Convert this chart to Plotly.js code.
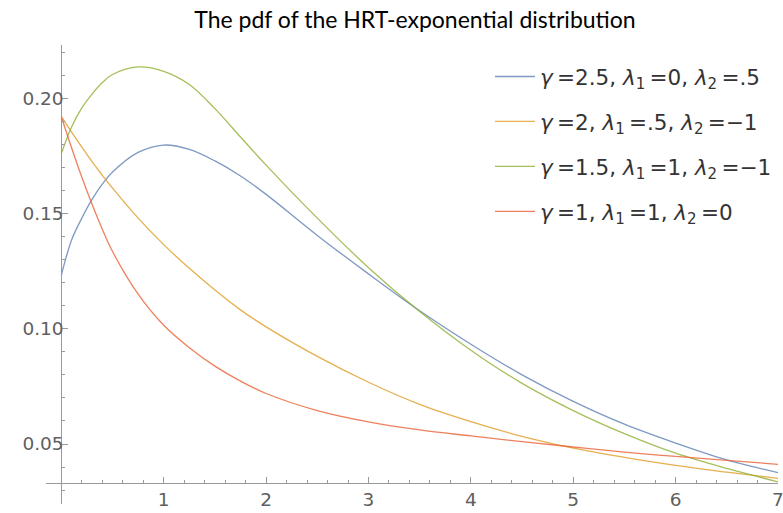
<!DOCTYPE html>
<html>
<head>
<meta charset="utf-8">
<script src="https://cdn.plot.ly/plotly-3.0.1.min.js"></script>
<style>html,body{margin:0;padding:0;background:#fff;}</style>
</head>
<body>
<div id="chart" style="width:783px;height:513px;"></div>
<script>
// x grid
const xs = [0, 0.1, 0.2, 0.3, 0.4, 0.5, 0.75, 1, 1.25, 1.5, 1.75, 2, 2.5, 3, 3.5, 4, 4.5, 5, 5.5, 6, 6.5, 7];

// pdf values
const blueVals   = [0.1233, 0.1385, 0.1480, 0.1561, 0.1627, 0.1680, 0.1765, 0.1797, 0.1778, 0.1728, 0.1663, 0.1583, 0.1405, 0.1238, 0.1078, 0.0933, 0.0800, 0.0685, 0.0586, 0.0504, 0.0431, 0.0376];
const orangeVals = [0.1920, 0.1853, 0.1788, 0.1725, 0.1666, 0.1610, 0.1480, 0.1365, 0.1262, 0.1168, 0.1082, 0.1008, 0.0880, 0.0768, 0.0672, 0.0597, 0.0533, 0.0482, 0.0442, 0.0407, 0.0378, 0.0351];
const greenVals  = [0.1760, 0.1875, 0.1958, 0.2018, 0.2068, 0.2103, 0.2136, 0.2117, 0.2060, 0.1955, 0.1832, 0.1710, 0.1480, 0.1265, 0.1075, 0.0907, 0.0763, 0.0645, 0.0545, 0.0460, 0.0394, 0.0336];
const redVals    = [0.1920, 0.1785, 0.1657, 0.1540, 0.1432, 0.1335, 0.1150, 0.1015, 0.0918, 0.0838, 0.0773, 0.0719, 0.0645, 0.0596, 0.0561, 0.0535, 0.0510, 0.0487, 0.0465, 0.0446, 0.0429, 0.0412];

const seriesNames = [
  "<i>γ</i>\u2009=2.5, <i>λ</i><sub>1</sub>\u2009=0, <i>λ</i><sub>2</sub>\u2009=.5",
  "<i>γ</i>\u2009=2, <i>λ</i><sub>1</sub>\u2009=.5, <i>λ</i><sub>2</sub>\u2009=\u22121",
  "<i>γ</i>\u2009=1.5, <i>λ</i><sub>1</sub>\u2009=1, <i>λ</i><sub>2</sub>\u2009=\u22121",
  "<i>γ</i>\u2009=1, <i>λ</i><sub>1</sub>\u2009=1, <i>λ</i><sub>2</sub>\u2009=0"
];
const seriesVals = [blueVals, orangeVals, greenVals, redVals];
const seriesColors = ["#5E81B5", "#E19C24", "#8FB032", "#EB6235"];

const xTickVals = [1, 2, 3, 4, 5, 6, 7];
const yTickVals = [0.05, 0.10, 0.15, 0.20];
const yTickText = ["0.05", "0.10", "0.15", "0.20"];

const traces = seriesVals.map((v, i) => ({
  x: xs, y: v, type: "scatter", mode: "lines",
  name: seriesNames[i], legendgroup: "g" + i,
  line: {color: seriesColors[i], width: 1.3, shape: "spline", smoothing: 1},
  opacity: 0.8
}));

const xMin = -0.15, xMax = 7.0, yMin = 0.02397, yMax = 0.2231, xAxisAt = 0.0331;
const tickFont = {family: "'DejaVu Sans', sans-serif", size: 18.5, color: "#606060"};

const layout = {
  width: 783, height: 513,
  margin: {l: 46, r: 5, t: 45, b: 9, autoexpand: false},
  paper_bgcolor: "#fff", plot_bgcolor: "#fff",
  showlegend: true,
  title: {
    text: "The pdf of the HRT-exponential distribution",
    font: {family: "Lato, 'Open Sans', sans-serif", size: 23, color: "#000"},
    xref: "container", yref: "container", x: 0.53, xanchor: "center", y: 1 - 20/513, yanchor: "middle"
  },
  xaxis: {
    range: [xMin, xMax], anchor: "free", position: (xAxisAt - yMin) / (yMax - yMin),
    showgrid: false, zeroline: false, showline: true, linecolor: "#9a9a9a", linewidth: 1,
    tickmode: "array", tickvals: xTickVals, ticks: "inside", ticklen: 6, tickcolor: "#9a9a9a",
    minor: {dtick: 0.2, tick0: 0, ticks: "inside", ticklen: 3, tickcolor: "#9a9a9a", showgrid: false},
    tickfont: tickFont, ticklabeloverflow: "allow",
    automargin: false, fixedrange: true
  },
  yaxis: {
    range: [yMin, yMax], anchor: "free", position: (0 - xMin) / (xMax - xMin),
    showgrid: false, zeroline: false, showline: true, linecolor: "#9a9a9a", linewidth: 1,
    tickmode: "array", tickvals: yTickVals, ticktext: yTickText, ticks: "inside", ticklen: 6, tickcolor: "#9a9a9a",
    minor: {dtick: 0.01, tick0: 0, ticks: "inside", ticklen: 3, tickcolor: "#9a9a9a", showgrid: false},
    tickfont: tickFont, ticklabeloverflow: "allow",
    ticklabelstandoff: -6,
    automargin: false, fixedrange: true
  },
  legend: {
    xref: "container", yref: "container", x: 490/783, y: 1 - 56/513, xanchor: "left", yanchor: "top",
    font: {family: "'DejaVu Sans', sans-serif", size: 21.5, color: "#333"},
    bgcolor: "rgba(0,0,0,0)", traceorder: "grouped", tracegroupgap: 14, itemwidth: 40
  }
};

Plotly.newPlot("chart", traces, layout, {displayModeBar: false});
</script>
</body>
</html>
